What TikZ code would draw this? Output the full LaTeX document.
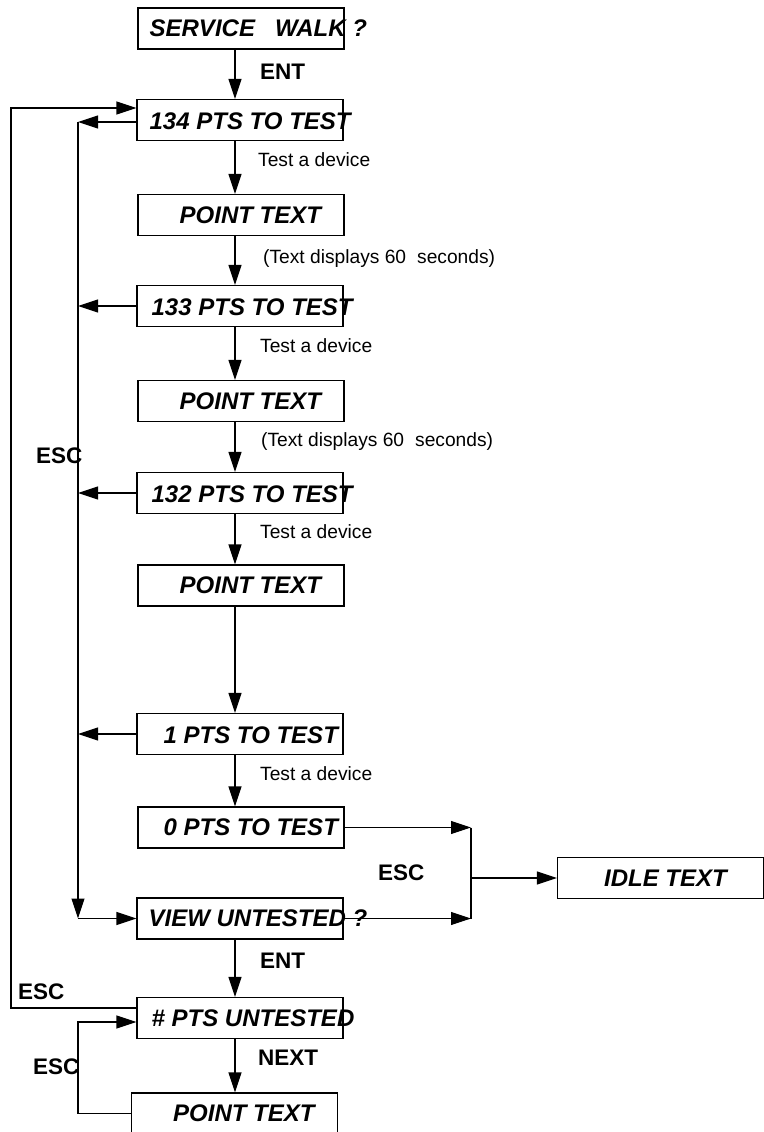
\documentclass[tikz,border=0pt]{standalone}
\usepackage{fontspec}
\setmainfont{Liberation Sans}
\usetikzlibrary{arrows.meta,calc}
\begin{document}
\begin{tikzpicture}[x=1pt,y=-1pt,
  box/.style={draw,line width=1.1pt,minimum width=206pt,minimum height=41pt,inner sep=0pt},
  btxt/.style={anchor=west,inner sep=0pt,font=\fontsize{24}{28}\selectfont\bfseries\itshape},
  lbl/.style={anchor=west,inner sep=0pt,font=\fontsize{22.5}{26}\selectfont\bfseries},
  note/.style={anchor=west,inner sep=0pt,font=\fontsize{19.2}{22}\selectfont},
  arr/.style={line width=1.1pt,-{Triangle[length=20pt,width=13pt]}},
  ln/.style={line width=1.1pt}]
\useasboundingbox (0,0) rectangle (763,1132);
% columns
\coordinate (ax) at (235,0);
\coordinate (inx) at (78,0);
\coordinate (outx) at (11,0);
\coordinate (rx) at (471,0);
% boxes
\node[box] (b0) at (241,28.5) {};
\node[box] (b1) at (240,120) {};
\node[box] (b2) at (241,215) {};
\node[box] (b3) at (240,306) {};
\node[box] (b4) at (241,401) {};
\node[box] (b5) at (240,493) {};
\node[box] (b6) at (241,585.5) {};
\node[box] (b7) at (240,734) {};
\node[box] (b8) at (241,827.5) {};
\node[box] (b9) at (240,918.5) {};
\node[box] (b10) at (240,1018) {};
\node[box] (b11) at (234.5,1113.5) {};
\node[box] (b12) at (660.5,878) {};
% box texts
\node[btxt] (t0) at ($(b0.west)+(12,0)$) {SERVICE\hspace{20pt}WALK ?};
\node[btxt] (t1) at ($(b1.west)+(13,1)$) {134 PTS TO TEST};
\node[btxt] (t2) at ($(b2.west)+(42,0)$) {POINT TEXT};
\node[btxt] (t3) at ($(b3.west)+(15,1)$) {133 PTS TO TEST};
\node[btxt] (t4) at ($(b4.west)+(42,0)$) {POINT TEXT};
\node[btxt] (t5) at ($(b5.west)+(15,1)$) {132 PTS TO TEST};
\node[btxt] (t6) at ($(b6.west)+(42,0)$) {POINT TEXT};
\node[btxt] (t7) at ($(b7.west)+(27,1)$) {1 PTS TO TEST};
\node[btxt] (t8) at ($(b8.west)+(26,0)$) {0 PTS TO TEST};
\node[btxt] (t9) at ($(b9.west)+(12,0)$) {VIEW UNTESTED ?};
\node[btxt] (t10) at ($(b10.west)+(15,0)$) {\# PTS UNTESTED};
\node[btxt] (t11) at ($(b11.west)+(42,0)$) {POINT TEXT};
\node[btxt] (t12) at ($(b12.west)+(47,0)$) {IDLE TEXT};
% labels
\node[lbl] (l1) at (260,72) {ENT};
\node[note] (n1) at (258,160) {Test a device};
\node[note] (n2) at (263,259) {(Text displays 60\hspace{11pt}seconds)};
\node[note] (n3) at (260,346) {Test a device};
\node[note] (n4) at (261,442) {(Text displays 60\hspace{11pt}seconds)};
\node[note] (n5) at (260,532) {Test a device};
\node[note] (n6) at (260,774) {Test a device};
\node[lbl] (e1) at (36,456) {ESC};
\node[lbl] (e2) at (378,873) {ESC};
\node[lbl] (l2) at (260,961) {ENT};
\node[lbl] (e3) at (18,992) {ESC};
\node[lbl] (l3) at (258,1058) {NEXT};
\node[lbl] (e4) at (33,1067) {ESC};
% main vertical arrows
\draw[arr] (b0.south -| ax) -- (b1.north -| ax);
\draw[arr] (b1.south -| ax) -- (b2.north -| ax);
\draw[arr] (b2.south -| ax) -- (b3.north -| ax);
\draw[arr] (b3.south -| ax) -- (b4.north -| ax);
\draw[arr] (b4.south -| ax) -- (b5.north -| ax);
\draw[arr] (b5.south -| ax) -- (b6.north -| ax);
\draw[arr] (b6.south -| ax) -- (b7.north -| ax);
\draw[arr] (b7.south -| ax) -- (b8.north -| ax);
\draw[arr] (b9.south -| ax) -- (b10.north -| ax);
\draw[arr] (b10.south -| ax) -- (b11.north -| ax);
% ESC arrows to inner line
\coordinate (i1) at ($(b1.west)+(0,2)$);
\draw[arr] (i1) -- (i1 -| inx);
\draw[arr] (b3.west) -- (b3.west -| inx);
\draw[arr] (b5.west) -- (b5.west -| inx);
\draw[arr] (b7.west) -- (b7.west -| inx);
\coordinate (itop) at (i1 -| inx);
\draw[arr] (itop) -- (b9.west -| inx);
\draw[arr] (b9.west -| inx) -- (b9.west);
% outer ESC loop
\coordinate (o1) at ($(b10.west)+(0,-10)$);
\coordinate (o2) at ($(b1.west)+(0,-12)$);
\draw[arr] (o1) -- (o1 -| outx) -- (o2 -| outx) -- (o2);
% bottom ESC loop
\coordinate (p1) at ($(b10.west)+(0,4)$);
\draw[arr] (b11.west) -- (b11.west -| inx) -- (p1 -| inx) -- (p1);
% right side to idle
\draw[arr] (b8.east) -- (b8.east -| rx);
\draw[arr] (b9.east) -- (b9.east -| rx);
\draw[ln] (b8.east -| rx) -- (b9.east -| rx);
\draw[arr] (b12.west -| rx) -- (b12.west);
\end{tikzpicture}
\end{document}
